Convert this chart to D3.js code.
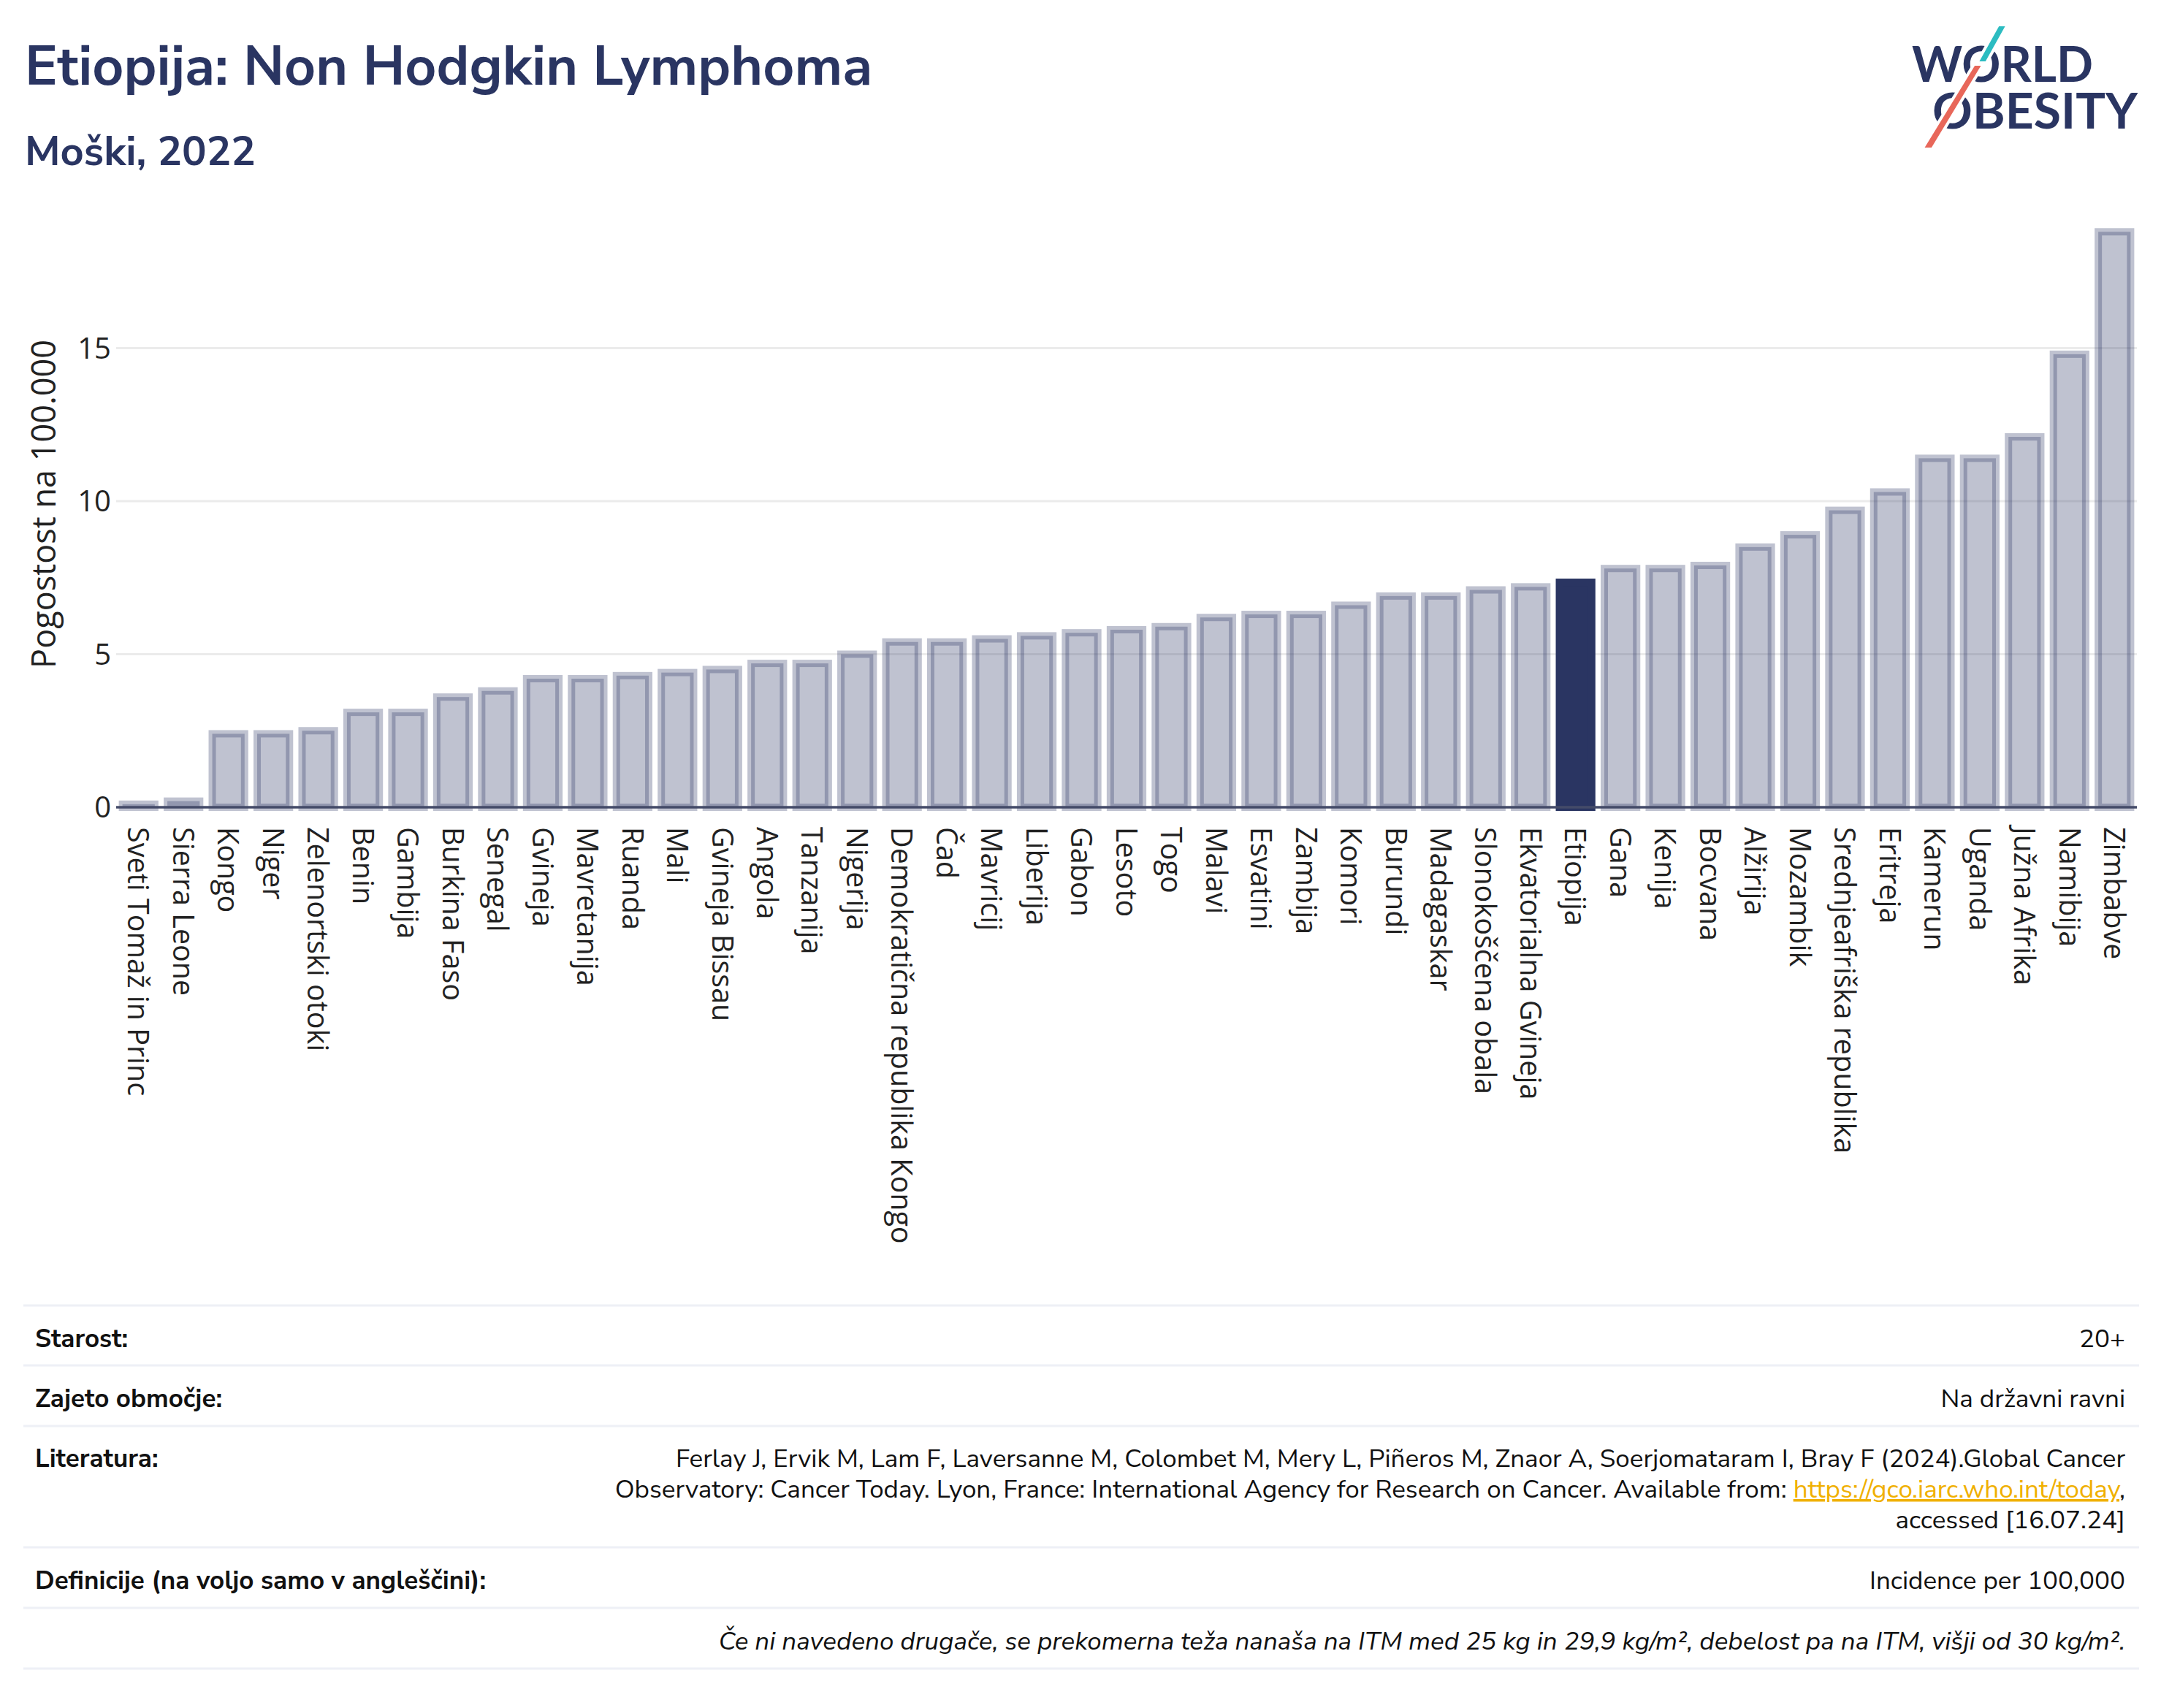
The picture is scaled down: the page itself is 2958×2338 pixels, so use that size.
<!DOCTYPE html>
<html>
<head>
<meta charset="utf-8">
<script src="https://cdn.jsdelivr.net/npm/d3@7"></script>
<style>
  html, body { margin: 0; padding: 0; background: #fff; }
  svg { display: block; }
</style>
</head>
<body>
<div id="chart"></div>
<script>
const countries = ["Sveti Tomaž in Princ", "Sierra Leone", "Kongo", "Niger", "Zelenortski otoki", "Benin", "Gambija",
  "Burkina Faso", "Senegal", "Gvineja", "Mavretanija", "Ruanda", "Mali", "Gvineja Bissau", "Angola", "Tanzanija",
  "Nigerija", "Demokratična republika Kongo", "Čad", "Mavricij", "Liberija", "Gabon", "Lesoto", "Togo", "Malavi",
  "Esvatini", "Zambija", "Komori", "Burundi", "Madagaskar", "Slonokoščena obala", "Ekvatorialna Gvineja", "Etiopija",
  "Gana", "Kenija", "Bocvana", "Alžirija", "Mozambik", "Srednjeafriška republika", "Eritreja", "Kamerun", "Uganda",
  "Južna Afrika", "Namibija", "Zimbabve"];
const values = [0.1, 0.2, 2.4, 2.4, 2.5, 3.1, 3.1, 3.6, 3.8, 4.2, 4.2, 4.3, 4.4, 4.5, 4.7, 4.7,
  5.0, 5.4, 5.4, 5.5, 5.6, 5.7, 5.8, 5.9, 6.2, 6.3, 6.3, 6.6, 6.9, 6.9, 7.1, 7.2, 7.35,
  7.8, 7.8, 7.9, 8.5, 8.9, 9.7, 10.3, 11.4, 11.4, 12.1, 14.8, 18.8];
const highlight = "Etiopija";
const yTicks = [0, 5, 10, 15];

const titleText = "Etiopija: Non Hodgkin Lymphoma";
const subtitleText = "Moški, 2022";
const yTitle = "Pogostost na 100.000";

const W = 2958, H = 2338;
const navy = "#2a3562";
const uiFont = "'Nunito Sans', Lato, 'Noto Sans', sans-serif";
const chartFont = "'Open Sans', 'Noto Sans', sans-serif";

const svg = d3.select("#chart").append("svg")
  .attr("width", W)
  .attr("height", H);

// header
svg.append("text")
  .attr("x", 34).attr("y", 116)
  .attr("font-family", uiFont).attr("font-weight", 700)
  .attr("font-size", 75).attr("fill", navy)
  .text(titleText);

svg.append("text")
  .attr("x", 34).attr("y", 226)
  .attr("font-family", uiFont).attr("font-weight", 700)
  .attr("font-size", 56).attr("fill", navy)
  .text(subtitleText);

// logo
const logo = svg.append("g");
logo.append("text")
  .attr("x", 2617).attr("y", 112)
  .attr("font-family", "Lato, sans-serif").attr("font-weight", 700)
  .attr("font-size", 66).attr("fill", navy)
  .attr("textLength", 248).attr("lengthAdjust", "spacingAndGlyphs")
  .text("WORLD");
logo.append("text")
  .attr("x", 2645).attr("y", 176)
  .attr("font-family", "Lato, sans-serif").attr("font-weight", 700)
  .attr("font-size", 66).attr("fill", navy)
  .attr("textLength", 281).attr("lengthAdjust", "spacingAndGlyphs")
  .text("OBESITY");
logo.append("path")
  .attr("d", "M2735,34 L2748,34 L2719,86 L2706,86 Z")
  .attr("fill", "#2cbcc1").attr("stroke", "#fff").attr("stroke-width", 4);
logo.append("path")
  .attr("d", "M2702,88 L2715,88 L2645,204 L2631,204 Z")
  .attr("fill", "#e8675a").attr("stroke", "#fff").attr("stroke-width", 4);

// chart
const plot = { left: 159, right: 2925 };
const x = d3.scaleBand()
  .domain(countries)
  .range([plot.left, plot.right])
  .paddingInner(0.28)
  .paddingOuter(0.14);

const y = d3.scaleLinear()
  .domain([0, 20])
  .range([1105, 1105 - 20 * 41.9]);

svg.append("g")
  .selectAll("line")
  .data(yTicks.filter(d => d > 0))
  .join("line")
  .attr("x1", plot.left).attr("x2", plot.right)
  .attr("y1", d => y(d)).attr("y2", d => y(d))
  .attr("stroke", "#ebebeb").attr("stroke-width", 3);

svg.append("g")
  .selectAll("text")
  .data(yTicks)
  .join("text")
  .attr("x", 152)
  .attr("y", d => y(d))
  .attr("dy", "0.36em")
  .attr("text-anchor", "end")
  .attr("font-family", chartFont).attr("font-size", 40).attr("fill", "#222")
  .text(d => d);

svg.append("text")
  .attr("transform", "translate(76, 690) rotate(-90)")
  .attr("text-anchor", "middle")
  .attr("font-family", chartFont).attr("font-size", 45).attr("fill", "#222")
  .text(yTitle);

const data = countries.map((c, i) => ({ country: c, value: values[i] }));

svg.append("g")
  .selectAll("rect")
  .data(data)
  .join("rect")
  .attr("x", d => x(d.country))
  .attr("width", x.bandwidth())
  .attr("y", d => y(d.value))
  .attr("height", d => y(0) - y(d.value))
  .attr("fill", d => d.country === highlight ? navy : "rgba(42,54,98,0.3)")
  .attr("stroke", d => d.country === highlight ? navy : "rgba(42,54,98,0.3)")
  .attr("stroke-width", 10);

svg.append("line")
  .attr("x1", plot.left).attr("x2", plot.right)
  .attr("y1", y(0)).attr("y2", y(0))
  .attr("stroke", "#444b69").attr("stroke-width", 3.5);

svg.append("g")
  .selectAll("text")
  .data(countries)
  .join("text")
  .attr("transform", d => `translate(${x(d) + x.bandwidth() / 2}, 1132) rotate(90)`)
  .attr("dy", "0.36em")
  .attr("font-family", chartFont).attr("font-size", 39.5).attr("fill", "#222")
  .text(d => d);

// footer table
const ruleYs = [1787, 1869, 1952, 2118, 2201, 2284];
svg.append("g")
  .selectAll("line")
  .data(ruleYs)
  .join("line")
  .attr("x1", 32).attr("x2", 2928)
  .attr("y1", d => d).attr("y2", d => d)
  .attr("stroke", "#eef0f6").attr("stroke-width", 3);

const footSize = 35;
const rowLabels = [
  { text: "Starost:", y: 1844 },
  { text: "Zajeto območje:", y: 1926 },
  { text: "Literatura:", y: 2008 },
  { text: "Definicije (na voljo samo v angleščini):", y: 2175 }
];
svg.append("g")
  .selectAll("text")
  .data(rowLabels)
  .join("text")
  .attr("x", 48).attr("y", d => d.y)
  .attr("font-family", uiFont).attr("font-weight", 700)
  .attr("font-size", footSize).attr("fill", "#111")
  .text(d => d.text);

const rowValues = [
  { text: "20+", y: 1844 },
  { text: "Na državni ravni", y: 1926 },
  { text: "Ferlay J, Ervik M, Lam F, Laversanne M, Colombet M, Mery L, Piñeros M, Znaor A, Soerjomataram I, Bray F (2024).Global Cancer", y: 2008 },
  { text: "accessed [16.07.24]", y: 2092 },
  { text: "Incidence per 100,000", y: 2175 }
];
svg.append("g")
  .selectAll("text")
  .data(rowValues)
  .join("text")
  .attr("x", 2909).attr("y", d => d.y)
  .attr("text-anchor", "end")
  .attr("font-family", uiFont)
  .attr("font-size", footSize).attr("fill", "#111")
  .text(d => d.text);

const refLine = svg.append("text")
  .attr("x", 2909).attr("y", 2050)
  .attr("text-anchor", "end")
  .attr("font-family", uiFont)
  .attr("font-size", footSize).attr("fill", "#111");
refLine.append("tspan").text("Observatory: Cancer Today. Lyon, France: International Agency for Research on Cancer. Available from: ");
refLine.append("tspan").attr("fill", "#f0b000").attr("text-decoration", "underline").text("https://gco.iarc.who.int/today");
refLine.append("tspan").text(",");

svg.append("text")
  .attr("x", 2909).attr("y", 2258)
  .attr("text-anchor", "end")
  .attr("font-family", uiFont).attr("font-style", "italic")
  .attr("font-size", footSize).attr("fill", "#111")
  .text("Če ni navedeno drugače, se prekomerna teža nanaša na ITM med 25 kg in 29,9 kg/m², debelost pa na ITM, višji od 30 kg/m².");
</script>
</body>
</html>
